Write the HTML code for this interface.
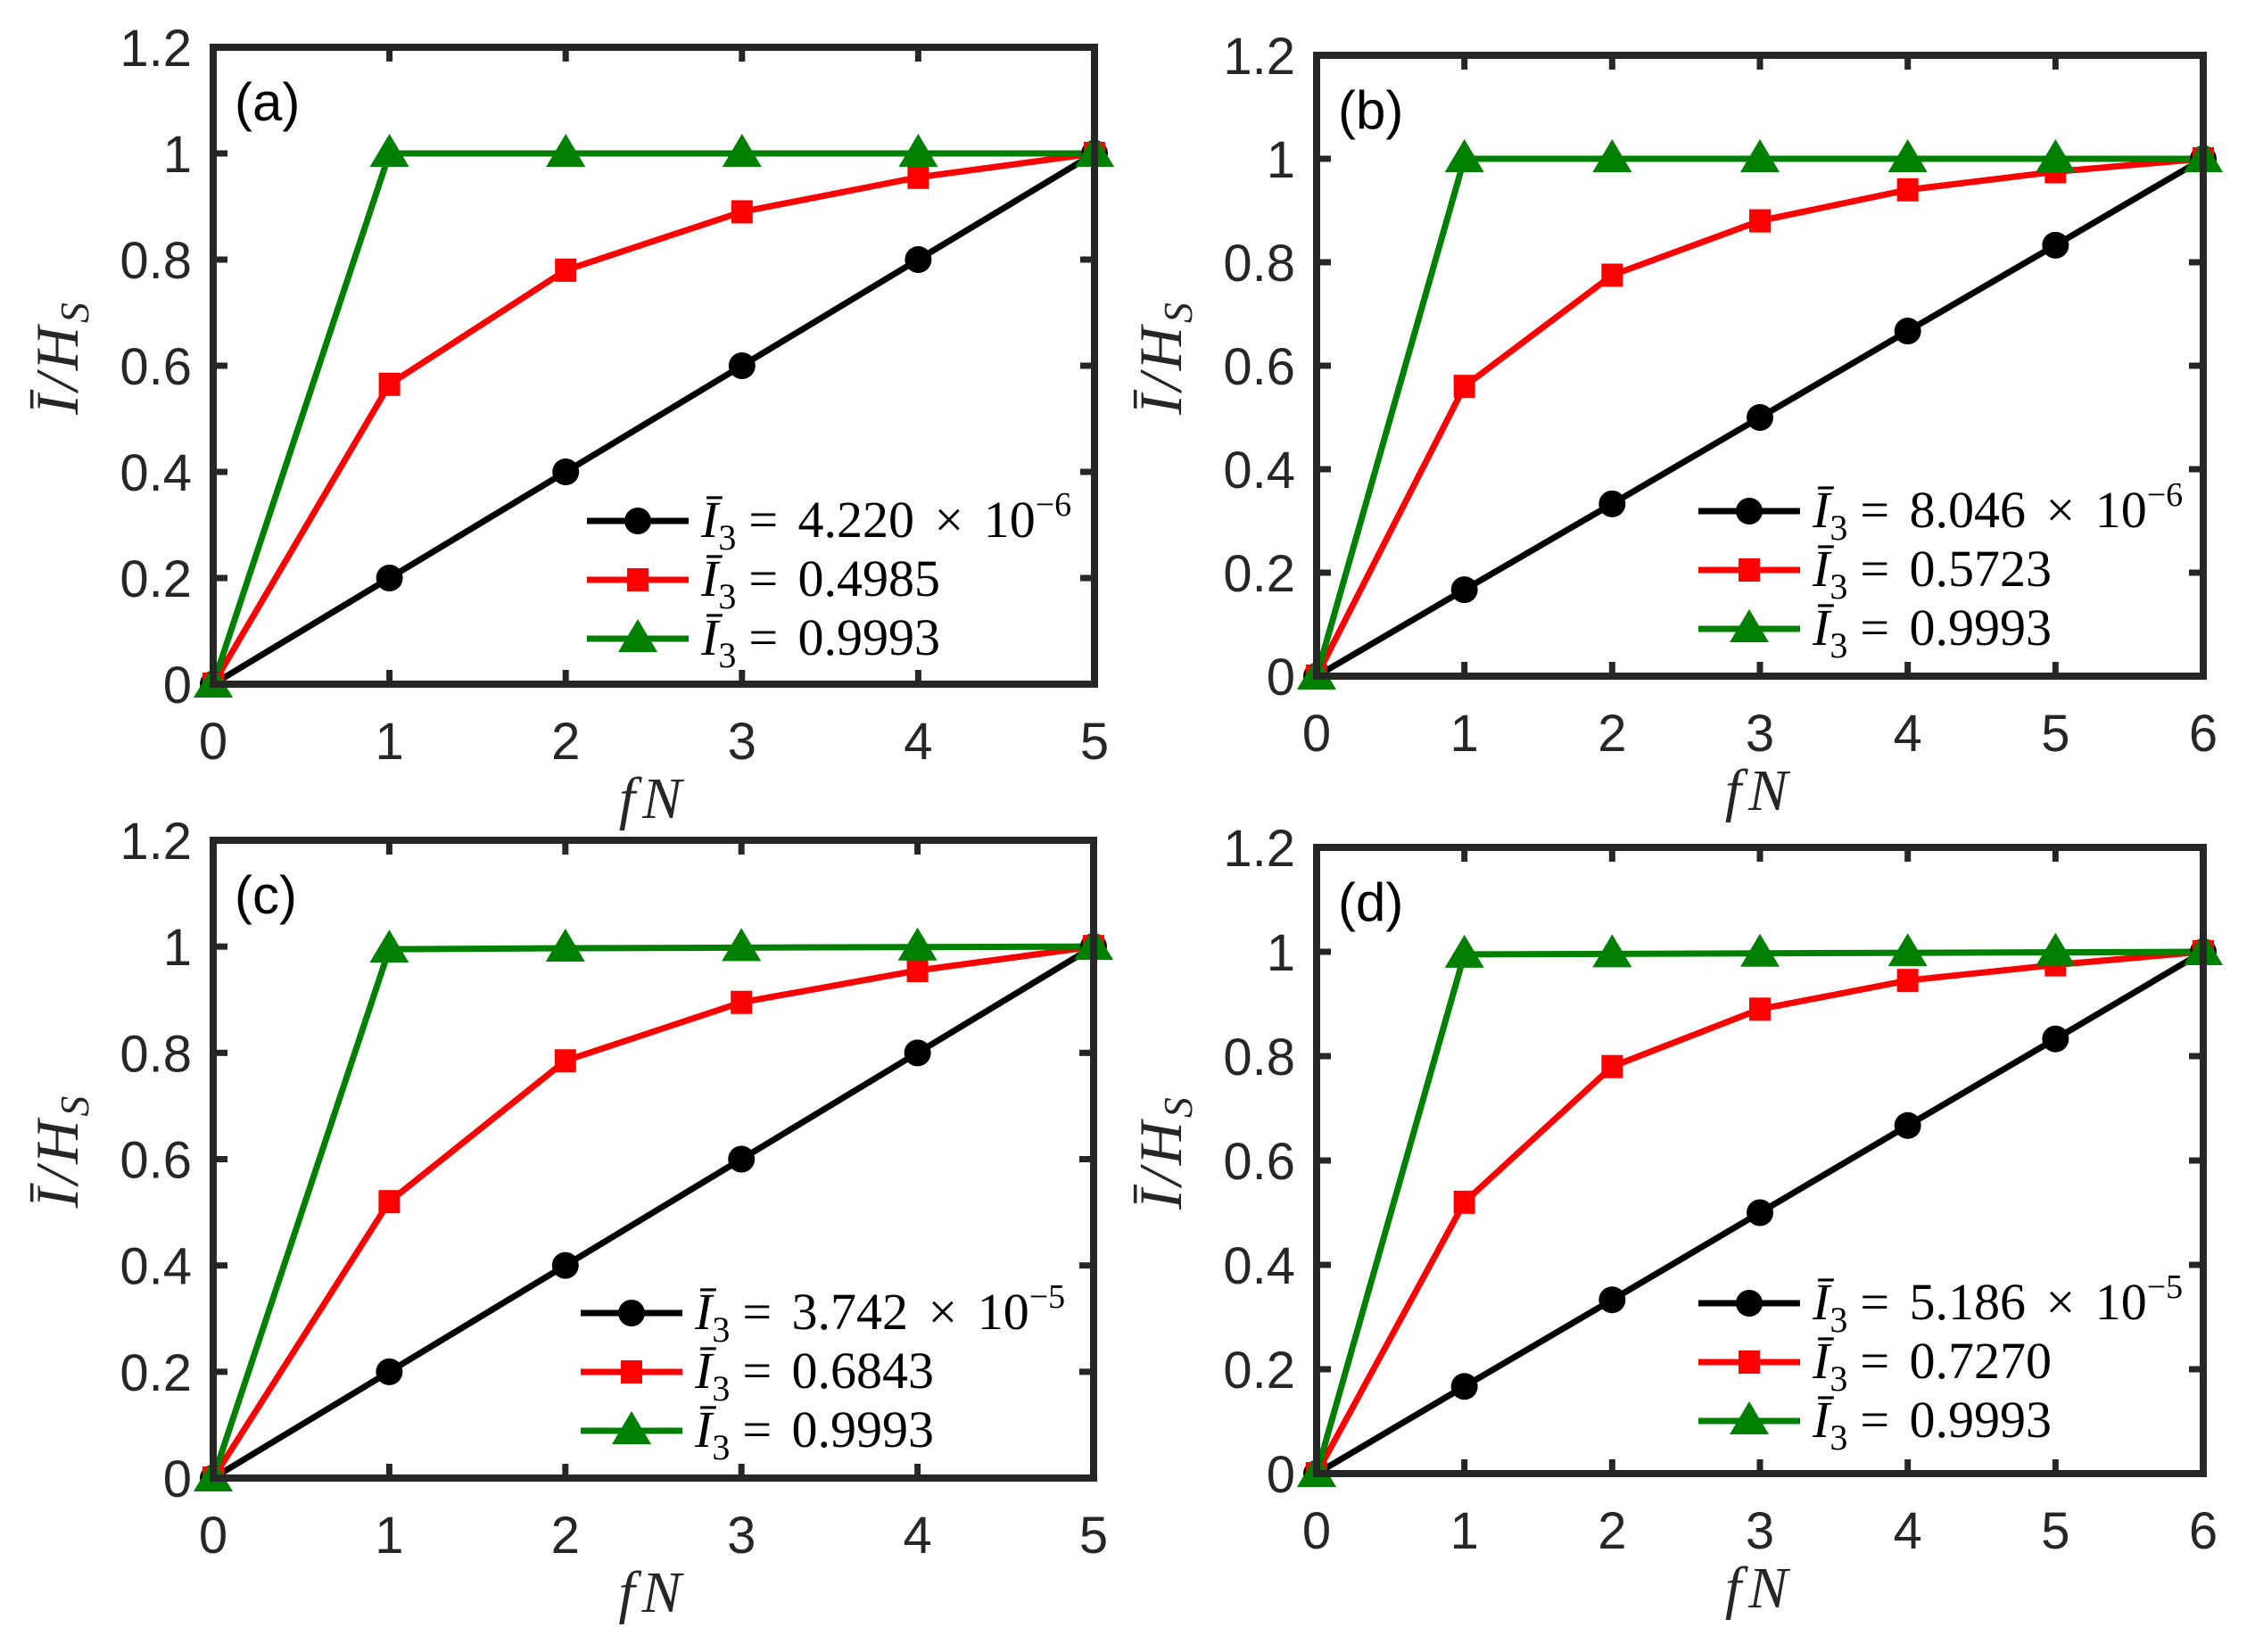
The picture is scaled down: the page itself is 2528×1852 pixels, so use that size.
<!DOCTYPE html>
<html><head><meta charset="utf-8"><style>
html,body{margin:0;padding:0;background:#fff;}
svg{display:block;}
</style></head><body>
<svg id="fig" width="2528" height="1852" viewBox="0 0 2528 1852" xmlns="http://www.w3.org/2000/svg"></svg>
<script>
const xA = [0,1,2,3,4,5];
const xB = [0,1,2,3,4,5,6];
const blackA = [0,0.2,0.4,0.6,0.8,1];
const redA = [0,0.565,0.78,0.89,0.955,1];
const greenA = [0,1,1,1,1,1];
const blackB = [0,0.167,0.333,0.5,0.667,0.833,1];
const redB = [0,0.56,0.775,0.88,0.94,0.975,1];
const greenB = [0,1,1,1,1,1,1];
const blackC = [0,0.2,0.4,0.6,0.8,1];
const redC = [0,0.52,0.785,0.895,0.955,1];
const greenC = [0,0.995,0.997,0.998,0.999,1];
const blackD = [0,0.167,0.333,0.5,0.667,0.833,1];
const redD = [0,0.52,0.78,0.89,0.945,0.975,1];
const greenD = [0,0.995,0.996,0.997,0.998,0.999,1];
const yTicks = ["0","0.2","0.4","0.6","0.8","1","1.2"];
const legA = ["= 4.220 × 10", "= 0.4985", "= 0.9993"], expA = "−6";
const legB = ["= 8.046 × 10", "= 0.5723", "= 0.9993"], expB = "−6";
const legC = ["= 3.742 × 10", "= 0.6843", "= 0.9993"], expC = "−5";
const legD = ["= 5.186 × 10", "= 0.7270", "= 0.9993"], expD = "−5";

const NS = "http://www.w3.org/2000/svg";
const svg = document.getElementById('fig');
function mk(tag, attrs, parent){
  const e = document.createElementNS(NS, tag);
  for (const k in attrs) e.setAttribute(k, attrs[k]);
  (parent||svg).appendChild(e);
  return e;
}
const AX = "#262626";
const panels = [
  {id:'a', L:239, R:1227, T:53, B:767, x:xA, s:[blackA,redA,greenA], leg:legA, exp:expA, lx:658, ly:584},
  {id:'b', L:1476, R:2470, T:62, B:758, x:xB, s:[blackB,redB,greenB], leg:legB, exp:expB, lx:1904, ly:573},
  {id:'c', L:239, R:1226, T:942, B:1657, x:xA, s:[blackC,redC,greenC], leg:legC, exp:expC, lx:651, ly:1472},
  {id:'d', L:1476, R:2470, T:950, B:1652, x:xB, s:[blackD,redD,greenD], leg:legD, exp:expD, lx:1904, ly:1461}
];
const colors = ["#000000","#ff0000","#008000"];
const markers = ["circle","square","triangle"];
const names = ["black-series","red-series","green-series"];

function marker(g, type, cx, cy, col){
  let m;
  if (type==="circle") m = mk('circle',{cx:cx,cy:cy,r:15,fill:col},g);
  else if (type==="square") m = mk('rect',{x:cx-12,y:cy-13,width:24,height:26,fill:col},g);
  else m = mk('polygon',{points:`${cx},${cy-22} ${cx-22},${cy+15} ${cx+22},${cy+15}`,fill:col},g);
  return m;
}

panels.forEach(p=>{
  const g = mk('g',{});
  
  
  const xmax = p.x[p.x.length-1];
  const sx = v => p.L + (p.R-p.L)*v/xmax;
  const sy = v => p.B - (p.B-p.T)*v/1.2;
  p.x.forEach(v=>{
    const X = sx(v);
    mk('line',{x1:X,y1:p.B,x2:X,y2:p.B-16,stroke:AX,'stroke-width':7},g);
    mk('line',{x1:X,y1:p.T,x2:X,y2:p.T+16,stroke:AX,'stroke-width':7},g);
    const t = mk('text',{x:X,y:p.B+84,'text-anchor':'middle','font-family':'Liberation Sans, sans-serif','font-size':58,fill:AX},g);
    t.textContent = String(v);
    
    
  });
  yTicks.forEach((lab,i)=>{
    const Y = sy(parseFloat(lab));
    mk('line',{x1:p.L,y1:Y,x2:p.L+16,y2:Y,stroke:AX,'stroke-width':7},g);
    mk('line',{x1:p.R,y1:Y,x2:p.R-16,y2:Y,stroke:AX,'stroke-width':7},g);
    const t = mk('text',{x:p.L-24,y:Y+21,'text-anchor':'end','font-family':'Liberation Sans, sans-serif','font-size':58,fill:AX},g);
    t.textContent = lab;
    
    
  });
  p.s.forEach((arr,k)=>{
    const sg = mk('g',{},g);
    
    
    const pts = arr.map((v,i)=>sx(p.x[i])+','+sy(v)).join(' ');
    mk('polyline',{points:pts,fill:'none',stroke:colors[k],'stroke-width':7,'stroke-linejoin':'round'},sg);
  });
  p.s.forEach((arr,k)=>{
    arr.forEach((v,i)=>{
      const m = marker(g, markers[k], sx(p.x[i]), sy(v), colors[k]);
      
      
    });
  });
  const fr = mk('rect',{x:p.L,y:p.T,width:p.R-p.L,height:p.B-p.T,fill:'none',stroke:AX,'stroke-width':8},g);
  
  
  const pl = mk('text',{x:p.L+24,y:p.T+82,'font-family':'Liberation Sans, sans-serif','font-size':60,fill:'#000'},g);
  pl.textContent = '('+p.id+')';
  
  
  const xl = mk('text',{x:(p.L+p.R)/2,y:p.B+150,'text-anchor':'middle','font-family':'Liberation Serif, serif','font-size':66,'font-style':'italic',fill:AX,'letter-spacing':8},g);
  xl.textContent = 'fN';
  
  
  const cy = (p.T+p.B)/2 - 10;
  const yg = mk('g',{transform:`translate(${p.L-152},${cy}) rotate(-90)`},g);
  
  
  const yt = mk('text',{x:0,y:0,'text-anchor':'middle','font-family':'Liberation Serif, serif','font-size':68,'font-style':'italic',fill:AX,'letter-spacing':4},yg);
  yt.innerHTML = 'Ī/H<tspan font-size="46" dy="12">S</tspan>';
  const lg = mk('g',{},g);
  
  
  for (let k=0;k<3;k++){
    const y = p.ly + k*66;
    const eg = mk('g',{},lg);
    
    
    mk('line',{x1:p.lx,y1:y,x2:p.lx+114,y2:y,stroke:colors[k],'stroke-width':7},eg);
    marker(eg, markers[k], p.lx+57, y, colors[k]);
    const tx = p.lx+128;
    const t = mk('text',{x:tx,y:y+18,'font-family':'Liberation Serif, serif','font-size':58,fill:'#000','word-spacing':8},eg);
    let html = '<tspan font-style="italic">Ī</tspan><tspan font-size="40" dy="14">3</tspan><tspan dy="-14" dx="14">'+p.leg[k]+'</tspan>';
    if (k===0) html += '<tspan font-size="38" dy="-24">'+p.exp+'</tspan>';
    t.innerHTML = html;
  }
});
</script>
</body></html>
